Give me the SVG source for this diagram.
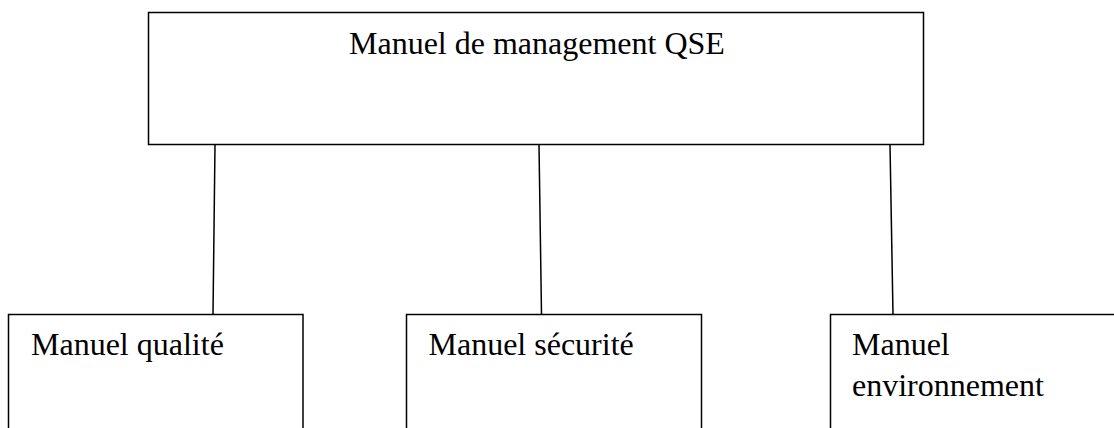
<svg xmlns="http://www.w3.org/2000/svg" width="1114" height="428" viewBox="0 0 1114 428">
  <style>
    .box { fill: #ffffff; stroke: #000000; stroke-width: 1.5; }
    .link { stroke: #000000; stroke-width: 1.5; fill: none; }
    .label { font-family: "Liberation Serif", "Times New Roman", serif; font-size: 32px; fill: #000000; }
  </style>
  <rect width="1114" height="428" fill="#ffffff"/>

  <!-- connectors from the QSE manual to each sub-manual -->
  <g id="connectors">
    <line class="link" x1="215" y1="144.5" x2="213" y2="314.5"/>
    <line class="link" x1="539" y1="144.5" x2="541.5" y2="314.5"/>
    <line class="link" x1="890" y1="144.5" x2="893" y2="314.5"/>
  </g>

  <g id="node-qse">
    <rect class="box" x="148.5" y="12.5" width="775" height="132"/>
    <text class="label" x="349" y="54">Manuel de management QSE</text>
  </g>

  <g id="node-qualite">
    <rect class="box" x="8.5" y="314.5" width="294.5" height="130"/>
    <text class="label" x="31" y="355">Manuel qualité</text>
  </g>

  <g id="node-securite">
    <rect class="box" x="406.5" y="314.5" width="295" height="130"/>
    <text class="label" x="428.5" y="355">Manuel sécurité</text>
  </g>

  <g id="node-environnement">
    <rect class="box" x="830.5" y="314.5" width="300" height="130"/>
    <text class="label" x="852" y="355">Manuel</text>
    <text class="label" x="852" y="395.5">environnement</text>
  </g>
</svg>
